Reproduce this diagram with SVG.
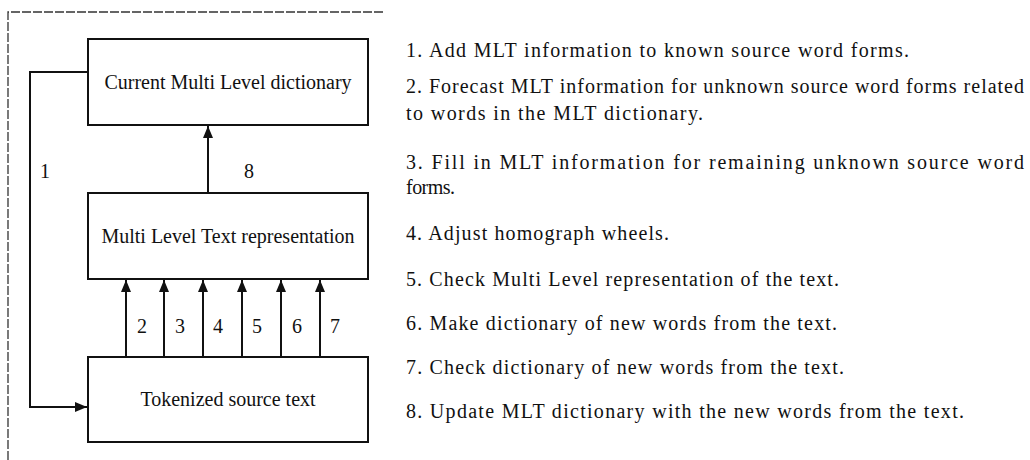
<svg xmlns="http://www.w3.org/2000/svg" width="1030" height="460" viewBox="0 0 1030 460">
<style>
.box{fill:#fff;stroke:#111;stroke-width:2}
.con{fill:none;stroke:#111;stroke-width:2}
.t{font-family:"Liberation Serif","Times New Roman",serif;font-size:20px;fill:#111}
.c{text-anchor:middle}
.frame{fill:none;stroke:#333;stroke-width:1.3;stroke-dasharray:9 2}
</style>
<defs>
<marker id="ah" viewBox="0 0 12 10" refX="12" refY="5" markerWidth="12" markerHeight="10" markerUnits="userSpaceOnUse" orient="auto">
<path d="M0,0 L12,5 L0,10 Z" fill="#111"/>
</marker>
</defs>
<rect width="1030" height="460" fill="#fff"/>
<path class="frame" d="M8,460 L8,12 L385,12"/>
<g id="connectors">
<path class="con" d="M88,72 L30,72 L30,407 L87,407" marker-end="url(#ah)"/>
<path class="con" d="M208,193 L208,126" marker-end="url(#ah)"/>
<path class="con" d="M126,357 L126,280" marker-end="url(#ah)"/>
<path class="con" d="M164,357 L164,280" marker-end="url(#ah)"/>
<path class="con" d="M203,357 L203,280" marker-end="url(#ah)"/>
<path class="con" d="M242,357 L242,280" marker-end="url(#ah)"/>
<path class="con" d="M281,357 L281,280" marker-end="url(#ah)"/>
<path class="con" d="M320,357 L320,280" marker-end="url(#ah)"/>
<text class="t c" x="45" y="178">1</text>
<text class="t c" x="249" y="178">8</text>
<text class="t c" x="142" y="333">2</text>
<text class="t c" x="180" y="333">3</text>
<text class="t c" x="218" y="333">4</text>
<text class="t c" x="257" y="333">5</text>
<text class="t c" x="297" y="333">6</text>
<text class="t c" x="335" y="333">7</text>
</g>
<g id="dictionary">
<rect class="box" x="88" y="39" width="280" height="86"/>
<text class="t c" x="228" y="89">Current Multi Level dictionary</text>
</g>
<g id="mlt-representation">
<rect class="box" x="88" y="193" width="280" height="86"/>
<text class="t c" x="228" y="243">Multi Level Text representation</text>
</g>
<g id="tokenized">
<rect class="box" x="88" y="357" width="280" height="85"/>
<text class="t c" x="228" y="406">Tokenized source text</text>
</g>
<g id="steps">
<text class="t" x="406" y="57" textLength="503" lengthAdjust="spacing">1. Add MLT information to known source word forms.</text>
<text class="t" x="406" y="93" textLength="618" lengthAdjust="spacing">2. Forecast MLT information for unknown source word forms related</text>
<text class="t" x="406" y="120" textLength="297" lengthAdjust="spacing">to words in the MLT dictionary.</text>
<text class="t" x="406" y="169" textLength="618" lengthAdjust="spacing">3. Fill in MLT information for remaining unknown source word</text>
<text class="t" x="406" y="194" textLength="49" lengthAdjust="spacing">forms.</text>
<text class="t" x="406" y="240" textLength="263" lengthAdjust="spacing">4. Adjust homograph wheels.</text>
<text class="t" x="406" y="286" textLength="433" lengthAdjust="spacing">5. Check Multi Level representation of the text.</text>
<text class="t" x="406" y="330" textLength="431" lengthAdjust="spacing">6. Make dictionary of new words from the text.</text>
<text class="t" x="406" y="374" textLength="438" lengthAdjust="spacing">7. Check dictionary of new words from the text.</text>
<text class="t" x="406" y="418" textLength="558" lengthAdjust="spacing">8. Update MLT dictionary with the new words from the text.</text>
</g>
</svg>
